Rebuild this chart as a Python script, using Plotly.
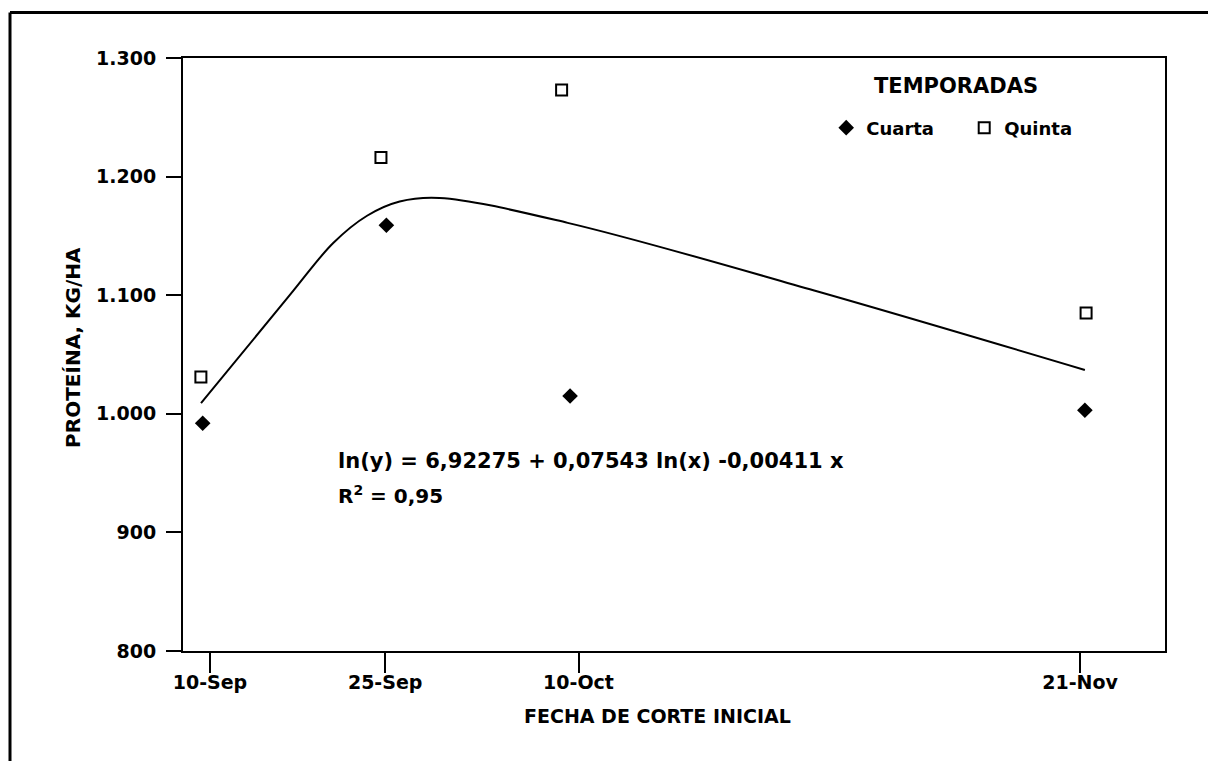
import plotly.graph_objects as go

# X positions are days after 10-Sep as placed on the original axis
tick_labels = ["10-Sep", "25-Sep", "10-Oct", "21-Nov"]
tick_days = [0, 14.5, 30.5, 72]

y_tick_vals = [800, 900, 1000, 1100, 1200, 1300]
y_tick_text = ["800", "900", "1.000", "1.100", "1.200", "1.300"]

cuarta_x = [-0.6, 14.6, 29.8, 72.4]
cuarta_y = [992, 1159, 1015, 1003]

quinta_x = [-0.75, 14.15, 29.1, 72.5]
quinta_y = [1031, 1216, 1273, 1085]

# fitted curve
curve_x = [-0.74, 6.6, 10.2, 13.0, 15.7, 19.0, 29.6, 50.0, 72.4]
curve_y = [1009, 1100, 1144, 1167, 1179, 1182, 1161, 1104, 1037]

FONT = "DejaVu Sans"
OFF = 8  # browser body margin

# page-pixel helpers for paper coordinates (plot area 183..1165 x 58..643)
def px(x):
    return (x - 183) / 982

def py(y):
    return (643 - y) / 585

fig = go.Figure()
fig.add_trace(go.Scatter(
    x=curve_x, y=curve_y, mode="lines", line=dict(color="black", width=2, shape="spline"),
    showlegend=False, hoverinfo="skip"))
fig.add_trace(go.Scatter(
    x=cuarta_x, y=cuarta_y, mode="markers", name="Cuarta",
    marker=dict(symbol="diamond", size=12, color="black")))
fig.add_trace(go.Scatter(
    x=quinta_x, y=quinta_y, mode="markers", name="Quinta",
    marker=dict(symbol="square-open", size=11, color="black", line=dict(width=2, color="black"))))

fig.update_layout(
    width=1216 - OFF, height=761 - OFF,
    margin=dict(l=183 - OFF, r=51, t=58 - OFF, b=118 - OFF),
    paper_bgcolor="white", plot_bgcolor="white",
    font=dict(family=FONT, color="black", size=19, weight="bold"),
    showlegend=True,
    legend=dict(orientation="h", x=0.655, y=py(127), xanchor="left", yanchor="middle",
                font=dict(size=18, family=FONT, weight="bold"), entrywidth=93, entrywidthmode="pixels",
                itemwidth=30, bgcolor="rgba(0,0,0,0)"),
    xaxis=dict(range=[-2.23, 79.03], tickmode="array", tickvals=tick_days, ticktext=tick_labels,
               ticks="outside", ticklen=20, tickwidth=2, tickcolor="black", ticklabelstandoff=-7,
               showline=True, linecolor="black", linewidth=2, mirror=True,
               showgrid=False, zeroline=False, tickfont=dict(size=19)),
    yaxis=dict(range=[800, 1300], tickmode="array", tickvals=y_tick_vals, ticktext=y_tick_text,
               ticks="outside", ticklen=15, tickwidth=2, tickcolor="black", ticklabelstandoff=6,
               showline=True, linecolor="black", linewidth=2, mirror=True,
               showgrid=False, zeroline=False, tickfont=dict(size=19)),
)

fig.add_annotation(text="TEMPORADAS", x=px(956), y=py(86), xref="paper", yref="paper",
                   showarrow=False, xanchor="center", yanchor="middle", font=dict(size=21))
fig.add_annotation(text="ln(y) = 6,92275 + 0,07543 ln(x) -0,00411 x", x=px(336), y=py(456),
                   xref="paper", yref="paper", showarrow=False, xanchor="left", yanchor="middle",
                   font=dict(size=21))
fig.add_annotation(text="R<sup>2</sup> = 0,95", x=px(336), y=py(489),
                   xref="paper", yref="paper", showarrow=False, xanchor="left", yanchor="middle",
                   font=dict(size=20))
fig.add_annotation(text="FECHA DE CORTE INICIAL", x=px(522), y=py(707),
                   xref="paper", yref="paper", showarrow=False, xanchor="left", yanchor="middle",
                   font=dict(size=19))
fig.add_annotation(text="PROTEÍNA, KG/HA", x=px(73), y=py(344),
                   xref="paper", yref="paper", showarrow=False, xanchor="center", yanchor="middle",
                   textangle=-90, font=dict(size=20))

# outer frame (top and left edges)
fig.add_shape(type="line", xref="paper", yref="paper", x0=px(10), x1=px(1216),
              y0=py(13), y1=py(13), line=dict(color="black", width=3))
fig.add_shape(type="line", xref="paper", yref="paper", x0=px(10), x1=px(10),
              y0=py(13), y1=py(761), line=dict(color="black", width=3))

fig.write_html("out.html")
